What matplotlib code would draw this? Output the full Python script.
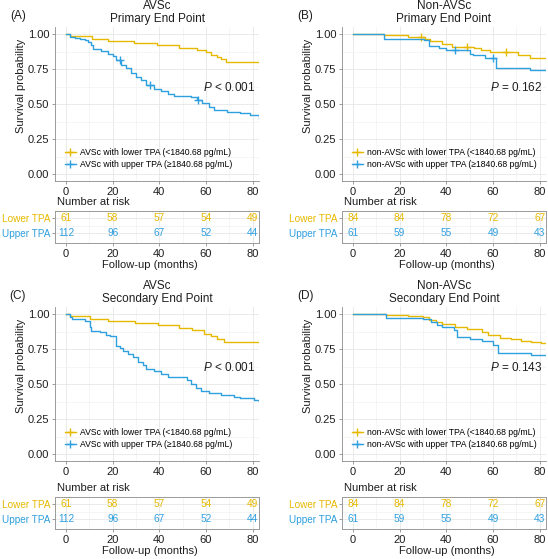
import numpy as np
import matplotlib
matplotlib.use("Agg")
import matplotlib.pyplot as plt
from matplotlib.lines import Line2D

plt.rcParams['font.family'] = ['Liberation Sans', 'DejaVu Sans']
plt.rcParams['mathtext.fontset'] = 'custom'
plt.rcParams['mathtext.it'] = 'Liberation Sans:italic'
plt.rcParams['mathtext.rm'] = 'Liberation Sans'

C_LOW = "#E7B800"
C_UP = "#2E9FDF"

# ---------------- data ----------------
# Panel A: AVSc, primary end point
A_low_t = [0, 1.7, 11, 18, 29, 39, 48.5, 56, 60, 62, 64.5, 66.5, 68.5, 83]
A_low_s = [1.0, 0.984, 0.967, 0.951, 0.934, 0.918, 0.902, 0.885, 0.869, 0.852, 0.836, 0.820, 0.803, 0.803]
A_up_t = [0, 1.7, 4, 6, 8, 9.4, 10.9, 11.5, 15, 17.9, 20, 21.6, 23.7, 25.8, 28, 30, 32.2, 34.3, 37.9,
          40.7, 43.5, 46.4, 53.5, 56.3, 58.4, 61.3, 63.4, 69, 74.7, 79, 82.6, 83]
A_up_s = [1.0, 0.982, 0.973, 0.964, 0.957, 0.945, 0.92, 0.893, 0.88, 0.86, 0.84, 0.814, 0.78, 0.755, 0.72,
          0.695, 0.67, 0.636, 0.61, 0.59, 0.57, 0.557, 0.552, 0.53, 0.505, 0.48, 0.457, 0.445, 0.433, 0.42, 0.39, 0.39]
A_low_cens = []
A_up_cens = [23, 36, 56.5]

# Panel B: non-AVSc, primary end point
B_low_t = [0, 13.4, 23.4, 31, 33, 38, 42.4, 52, 55, 58.5, 70.7, 76, 83]
B_low_s = [1.0, 0.99, 0.98, 0.965, 0.952, 0.93, 0.91, 0.90, 0.888, 0.87, 0.85, 0.83, 0.83]
B_up_t = [0, 13.4, 30.4, 32.5, 36.7, 40, 50, 51.5, 56.5, 61.4, 75.7, 83]
B_up_s = [1.0, 0.967, 0.957, 0.916, 0.898, 0.886, 0.86, 0.85, 0.826, 0.755, 0.74, 0.74]
B_low_cens = [29.2, 49, 65.7]
B_up_cens = [43.8, 60]

# Panel C: AVSc, secondary end point
C_low_t = [0, 1.7, 10.2, 17.9, 29.4, 39.3, 48.5, 54.2, 59, 62, 64.8, 67.7, 83]
C_low_s = [1.0, 0.984, 0.966, 0.948, 0.936, 0.919, 0.90, 0.883, 0.859, 0.843, 0.824, 0.80, 0.80]
C_up_t = [0, 1.7, 2.4, 6, 8.1, 10.2, 10.9, 14.5, 17.3, 18.7, 21.6, 23, 24.4, 26.5, 28.6, 30.8, 32.9,
          34.3, 37.9, 40.7, 43.5, 52, 53.5, 55.6, 57.7, 61.3, 66.3, 72, 74.7, 80.4, 82.6, 83]
C_up_s = [1.0, 0.98, 0.967, 0.962, 0.948, 0.907, 0.88, 0.869, 0.85, 0.84, 0.774, 0.755, 0.738, 0.714,
          0.69, 0.66, 0.633, 0.605, 0.59, 0.574, 0.55, 0.526, 0.502, 0.471, 0.45, 0.433, 0.421, 0.41,
          0.40, 0.386, 0.37, 0.37]
C_low_cens = []
C_up_cens = []

# Panel D: non-AVSc, secondary end point
D_low_t = [0, 14.2, 23.4, 29.8, 32.6, 35.4, 38.2, 43.9, 48.8, 55.2, 58, 62.9, 67.9, 72, 76.3, 80.5, 83]
D_low_s = [1.0, 0.995, 0.986, 0.976, 0.955, 0.943, 0.926, 0.907, 0.89, 0.871, 0.852, 0.829, 0.819,
           0.81, 0.80, 0.795, 0.795]
D_up_t = [0, 14.2, 29.8, 33.3, 36, 38.2, 43.2, 44.6, 50.2, 55.2, 60, 62.2, 76.3, 83]
D_up_s = [1.0, 0.971, 0.962, 0.943, 0.924, 0.907, 0.883, 0.836, 0.824, 0.81, 0.776, 0.724, 0.71, 0.70]
D_low_cens = []
D_up_cens = []

risk_times = [0, 20, 40, 60, 80]
AVSc_low_risk = [61, 58, 57, 54, 49]
AVSc_up_risk = [112, 96, 67, 52, 44]
non_low_risk = [84, 84, 78, 72, 67]
non_up_risk = [61, 59, 55, 49, 43]

panels = [
    dict(tag="(A)", t1="AVSc", t2="Primary End Point", p=r"$\mathit{P}$ < 0.001",
         low=(A_low_t, A_low_s, A_low_cens), up=(A_up_t, A_up_s, A_up_cens),
         leg=("AVSc with lower TPA (<1840.68 pg/mL)", "AVSc with upper TPA (\u22651840.68 pg/mL)"),
         risk=(AVSc_low_risk, AVSc_up_risk), pos=(55, 27), py=0.62, fx=95),
    dict(tag="(B)", t1="Non-AVSc", t2="Primary End Point", p=r"$\mathit{P}$ = 0.162",
         low=(B_low_t, B_low_s, B_low_cens), up=(B_up_t, B_up_s, B_up_cens),
         leg=("non-AVSc with lower TPA (<1840.68 pg/mL)", "non-AVSc with upper TPA (\u22651840.68 pg/mL)"),
         risk=(non_low_risk, non_up_risk), pos=(342, 27), py=0.62, fx=105),
    dict(tag="(C)", t1="AVSc", t2="Secondary End Point", p=r"$\mathit{P}$ < 0.001",
         low=(C_low_t, C_low_s, C_low_cens), up=(C_up_t, C_up_s, C_up_cens),
         leg=("AVSc with lower TPA (<1840.68 pg/mL)", "AVSc with upper TPA (\u22651840.68 pg/mL)"),
         risk=(AVSc_low_risk, AVSc_up_risk), pos=(55, 307), py=0.62, fx=95),
    dict(tag="(D)", t1="Non-AVSc", t2="Secondary End Point", p=r"$\mathit{P}$ = 0.143",
         low=(D_low_t, D_low_s, D_low_cens), up=(D_up_t, D_up_s, D_up_cens),
         leg=("non-AVSc with lower TPA (<1840.68 pg/mL)", "non-AVSc with upper TPA (\u22651840.68 pg/mL)"),
         risk=(non_low_risk, non_up_risk), pos=(342, 307), py=0.615, fx=105),
]

W, H = 548, 559
fig = plt.figure(figsize=(W / 100, H / 100), dpi=100)


def add_ax(l, t, r, b):
    return fig.add_axes([l / W, 1 - b / H, (r - l) / W, (b - t) / H])


def ftext(x, y, s, **kw):
    fig.text(x / W, 1 - y / H, s, **kw)


XL = (-4.7, 82.7)
GRID_MAJ = "#E6E6E6"
GRID_MIN = "#F2F2F2"
AXC = "#8C8C8C"
TXT = "#1E1E1E"


def style_grid(ax):
    ax.grid(True, which='major', color=GRID_MAJ, lw=0.6)
    ax.grid(True, which='minor', color=GRID_MIN, lw=0.5)
    ax.set_axisbelow(True)


def step_at(t, s, x):
    idx = np.searchsorted(t, x, side='right') - 1
    return np.asarray(s)[idx]


for P in panels:
    L, T = P["pos"]
    R = L + 204
    B = T + 154
    ax = add_ax(L, T, R, B)
    style_grid(ax)
    for (tt, ss, cens), col in ((P["low"], C_LOW), (P["up"], C_UP)):
        ax.step(tt, ss, where='post', color=col, lw=1.0)
        if cens:
            ax.plot(cens, step_at(tt, ss, cens), ls='none', marker='+', color=col, ms=6, mew=1.0)
    ax.set_xlim(*XL)
    ax.set_ylim(-0.05, 1.05)
    ax.set_xticks(risk_times)
    ax.set_xticks([10, 30, 50, 70], minor=True)
    ax.set_yticks([0, 0.25, 0.5, 0.75, 1.0])
    ax.set_yticks([0.125, 0.375, 0.625, 0.875], minor=True)
    ax.set_yticklabels(["0.00", "0.25", "0.50", "0.75", "1.00"])
    ax.tick_params(which='minor', length=0)
    ax.tick_params(which='major', labelsize=8, length=2.5, width=0.6, color=AXC, pad=1.5, labelcolor=TXT)
    for sp in ('top', 'right'):
        ax.spines[sp].set_visible(False)
    for sp in ('left', 'bottom'):
        ax.spines[sp].set_color(AXC)
        ax.spines[sp].set_linewidth(0.6)
    ax.text(58.5, P["py"], P["p"], fontsize=8.5, ha='left', va='center', color=TXT)
    handles = [Line2D([], [], color=C_LOW, lw=1.0, marker='+', ms=6, mew=1.0),
               Line2D([], [], color=C_UP, lw=1.0, marker='+', ms=6, mew=1.0)]
    ax.legend(handles, P["leg"], loc='lower left', bbox_to_anchor=(0.05, 0.075), frameon=False,
              fontsize=6.2, handlelength=1.2, handletextpad=0.5, labelspacing=0.35, borderpad=0,
              borderaxespad=0)

    # titles and labels
    cx = (L + R) / 2
    ftext(cx, T - 21, P["t1"], ha='center', va='center', fontsize=8.5, color=TXT)
    ftext(cx, T - 8, P["t2"], ha='center', va='center', fontsize=8.5, color=TXT)
    ftext(L - 37, T - 11, P["tag"], ha='center', va='center', fontsize=8.5, color=TXT)
    ftext(L - 34, T + 59, "Survival probability", rotation=90, ha='center', va='center',
          fontsize=8, color=TXT)

    # risk table
    RT = B + 30 if T < 100 else B + 36
    RB = RT + 32
    rax = add_ax(L, RT, R, RB)
    rax.set_xlim(*XL)
    rax.set_ylim(0.33, 2.47)
    rax.set_xticks(risk_times)
    rax.set_xticks([10, 30, 50, 70], minor=True)
    rax.set_yticks([1, 2])
    rax.set_yticks([1.5], minor=True)
    rax.set_yticklabels(["Upper TPA", "Lower TPA"])
    for lab, col in zip(rax.get_yticklabels(), (C_UP, C_LOW)):
        lab.set_color(col)
    rax.grid(True, which='major', color=GRID_MAJ, lw=0.6)
    rax.grid(True, which='minor', color=GRID_MIN, lw=0.5)
    rax.set_axisbelow(True)
    rax.tick_params(which='minor', length=0)
    rax.tick_params(axis='y', which='major', labelsize=7.2, length=2.5, width=0.6, color=AXC, pad=1)
    rax.tick_params(axis='x', which='major', labelsize=8, length=2.5, width=0.6, color=AXC, pad=1.5,
                    labelcolor=TXT)
    for sp in rax.spines.values():
        sp.set_color("#9A9A9A")
        sp.set_linewidth(0.7)
    low_r, up_r = P["risk"]
    for xt, v in zip(risk_times, low_r):
        rax.text(xt, 2, str(v), color=C_LOW, fontsize=7.3, ha='center', va='center')
    for xt, v in zip(risk_times, up_r):
        rax.text(xt, 1, str(v), color=C_UP, fontsize=7.3, ha='center', va='center')
    ftext(L + 2, RT - 9, "Number at risk", ha='left', va='center', fontsize=8, color=TXT)
    ftext(L + P["fx"], RB + 22, "Follow-up (months)", ha='center', va='center', fontsize=8, color=TXT)

fig.savefig("out.png", dpi=100)
